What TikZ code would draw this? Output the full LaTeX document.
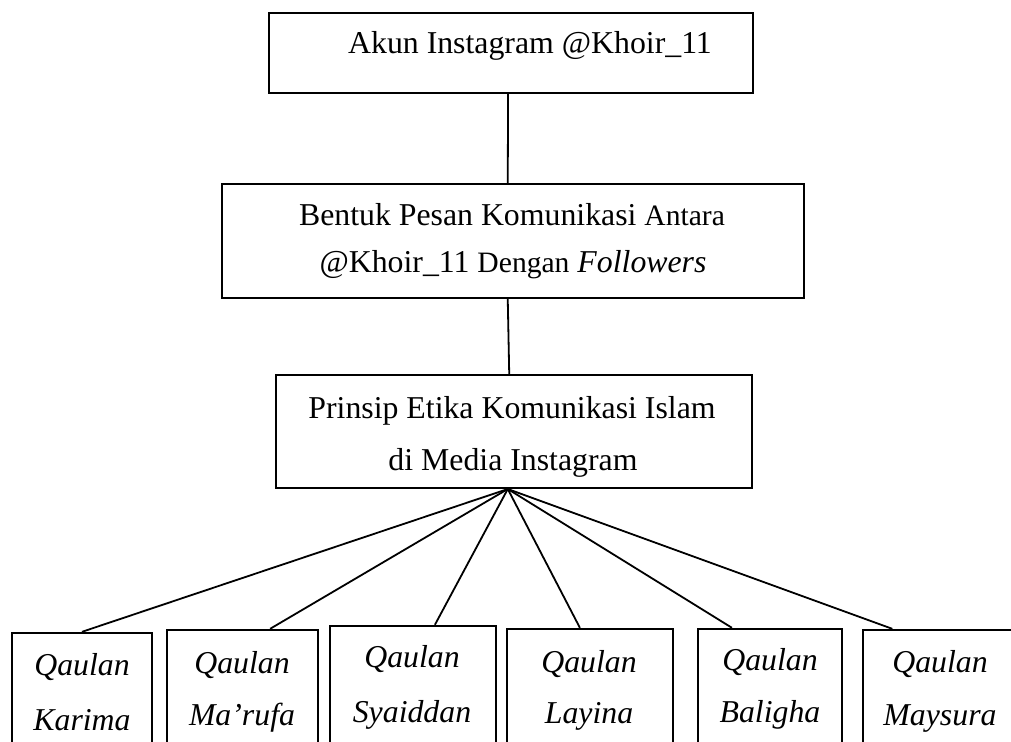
\documentclass[tikz,border=0pt]{standalone}
\usepackage{fontspec}
\setmainfont{Liberation Serif}
\usetikzlibrary{calc}
\newcommand{\bigtxt}{\fontsize{15.9pt}{19pt}\selectfont}
\newcommand{\smtxt}{\fontsize{14.8pt}{18pt}\selectfont}
\begin{document}
\begin{tikzpicture}[x=0.5pt,y=-0.5pt,
  box/.style={draw, line width=1pt, inner sep=0pt},
  qbox/.style={draw, line width=1.2pt, inner sep=0pt},
  link/.style={line width=0.9pt},
  txt/.style={anchor=base, inner sep=0pt, font=\bigtxt},
  qtxt/.style={anchor=base, inner sep=0pt, font=\bigtxt\itshape}]
\clip (0,0) rectangle (1011,741);
\fill[white] (0,0) rectangle (1011,741);
% main boxes
\node[box, minimum width=242pt, minimum height=40pt] (top) at (511,53) {};
\node[box, minimum width=291pt, minimum height=57pt] (mid) at (513,241) {};
\node[box, minimum width=238pt, minimum height=56.5pt] (prin) at (514,431.5) {};
% bottom boxes
\node[qbox, minimum width=70pt, minimum height=63.5pt] (b1) at (82,696.5) {};
\node[qbox, minimum width=75.5pt, minimum height=65pt] (b2) at (242.5,695) {};
\node[qbox, minimum width=83pt, minimum height=67pt] (b3) at (413,693) {};
\node[qbox, minimum width=83pt, minimum height=65.5pt] (b4) at (590,694.5) {};
\node[qbox, minimum width=72pt, minimum height=65.5pt] (b5) at (770,694.5) {};
\node[qbox, minimum width=75pt, minimum height=65pt] (b6) at (938,695) {};
% texts
\node[txt] (t0) at (530,53) {Akun Instagram @Khoir\_11};
\node[txt] (t1) at (512,225) {Bentuk Pesan Komunikasi {\smtxt Antara}};
\node[txt] (t2) at (513,272) {@Khoir\_11 {\smtxt Dengan} \textit{Followers}};
\node[txt] (t3) at (512,418) {Prinsip Etika Komunikasi Islam};
\node[txt] (t4) at (513,470) {di Media Instagram};
\node[qtxt] (q1a) at (82,675) {Qaulan};
\node[qtxt] (q1b) at (82,730) {Karima};
\node[qtxt] (q2a) at (242,673) {Qaulan};
\node[qtxt] (q2b) at (242,725) {Ma’rufa};
\node[qtxt] (q3a) at (412,667) {Qaulan};
\node[qtxt] (q3b) at (412,722) {Syaiddan};
\node[qtxt] (q4a) at (589,672) {Qaulan};
\node[qtxt] (q4b) at (589,723) {Layina};
\node[qtxt] (q5a) at (770,670) {Qaulan};
\node[qtxt] (q5b) at (770,722) {Baligha};
\node[qtxt] (q6a) at (940,672) {Qaulan};
\node[qtxt] (q6b) at (940,725) {Maysura};
% connectors
\draw[link] ($(top.south west)!0.494!(top.south east)$) -- ($(mid.north west)!0.491!(mid.north east)$);
\draw[link] ($(mid.south west)!0.491!(mid.south east)$) -- ($(prin.north west)!0.49!(prin.north east)$);
\coordinate (fan) at ($(prin.south west)!0.487!(prin.south east)$);
\draw[link] (fan) -- ($(b1.north west)!0.5!(b1.north east)$);
\draw[link] (fan) -- ($(b2.north west)!0.68!(b2.north east)$);
\draw[link] (fan) -- ($(b3.north west)!0.63!(b3.north east)$);
\draw[link] (fan) -- ($(b4.north west)!0.44!(b4.north east)$);
\draw[link] (fan) -- ($(b5.north west)!0.24!(b5.north east)$);
\draw[link] (fan) -- ($(b6.north west)!0.2!(b6.north east)$);
\end{tikzpicture}
\end{document}
